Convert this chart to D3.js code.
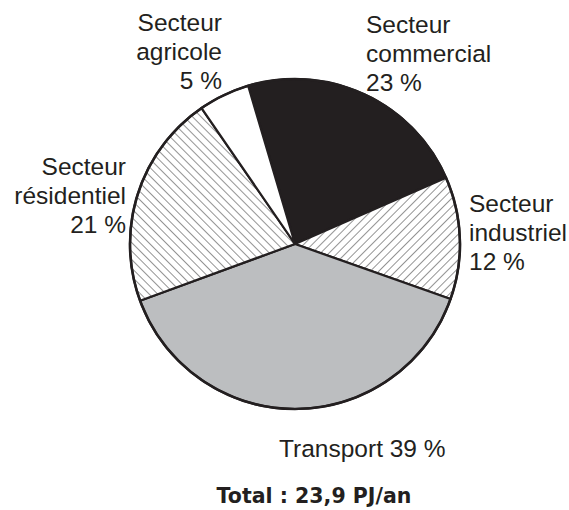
<!DOCTYPE html>
<html>
<head>
<meta charset="utf-8">
<script src="https://cdn.jsdelivr.net/npm/d3@7"></script>
<style>
  html, body { margin: 0; padding: 0; background: #fff; }
  svg { display: block; }
</style>
</head>
<body>
<svg width="569" height="510" viewBox="0 0 569 510"></svg>
<script>
// input data, clockwise from the top
const sectors = ['Secteur commercial', 'Secteur industriel', 'Transport', 'Secteur résidentiel', 'Secteur agricole'];
const shares = [23, 12, 39, 21, 5]; // percentage
const total = 'Total : 23,9 PJ/an';

// fill of each slice (pattern ids for the hatched ones)
const fills = ['#231f20', 'url(#hatch-fwd)', '#bcbec0', 'url(#hatch-back)', '#ffffff'];

// label placement: anchor point, alignment and line breaks
const labelLayout = [
  { x: 366, y: 33, anchor: 'start', lines: d => ['Secteur', 'commercial', `${d} %`] },
  { x: 469, y: 212, anchor: 'start', lines: d => ['Secteur', 'industriel', `${d} %`] },
  { x: 279, y: 457, anchor: 'start', lines: d => [`Transport ${d} %`] },
  { x: 126, y: 175, anchor: 'end', lines: d => ['Secteur', 'résidentiel', `${d} %`] },
  { x: 222, y: 31, anchor: 'end', lines: d => ['Secteur', 'agricole', `${d} %`] },
];

const svg = d3.select('svg');
const cx = 295;
const cy = 244;
const radius = 165;
const lineHeight = 29;

// hatch patterns
const defs = svg.append('defs');
[['hatch-back', 45], ['hatch-fwd', -45]].forEach(([id, angle]) => {
  const p = defs
    .append('pattern')
    .attr('id', id)
    .attr('patternUnits', 'userSpaceOnUse')
    .attr('width', 6)
    .attr('height', 6)
    .attr('patternTransform', `rotate(${angle})`);
  p.append('rect').attr('width', 6).attr('height', 6).attr('fill', '#fff');
  p.append('line')
    .attr('x1', 0).attr('y1', 0)
    .attr('x2', 6).attr('y2', 0)
    .attr('stroke', '#2a2a2a')
    .attr('stroke-width', 1);
});

const pie = d3
  .pie()
  .sort(null)
  .startAngle((-16.5 * Math.PI) / 180)
  .endAngle(((360 - 16.5) * Math.PI) / 180)
  .value(d => d);

const arc = d3.arc().innerRadius(0).outerRadius(radius);

const group = svg.append('g').attr('transform', `translate(${cx} ${cy})`);

group
  .selectAll('path')
  .data(pie(shares))
  .join('path')
  .attr('d', arc)
  .attr('fill', (d, i) => fills[i])
  .attr('stroke', '#231f20')
  .attr('stroke-width', 2.2)
  .attr('stroke-linejoin', 'round');

// outer ring
group
  .append('circle')
  .attr('r', radius)
  .attr('fill', 'none')
  .attr('stroke', '#231f20')
  .attr('stroke-width', 2.6);

// labels
svg
  .selectAll('text.label')
  .data(shares)
  .join('text')
  .attr('class', 'label')
  .attr('font-family', '"Liberation Sans", Arial, sans-serif')
  .attr('font-size', 24.5)
  .attr('fill', '#231f20')
  .attr('text-anchor', (d, i) => labelLayout[i].anchor)
  .each(function (d, i) {
    const l = labelLayout[i];
    d3.select(this)
      .selectAll('tspan')
      .data(l.lines(d))
      .join('tspan')
      .attr('x', l.x)
      .attr('y', (t, j) => l.y + j * lineHeight)
      .text(t => t);
  });

// total
svg
  .append('text')
  .attr('x', 314)
  .attr('y', 503)
  .attr('text-anchor', 'middle')
  .attr('font-family', '"DejaVu Sans", Verdana, sans-serif')
  .attr('font-weight', 'bold')
  .attr('font-size', 20.5)
  .attr('fill', '#231f20')
  .text(total);
</script>
</body>
</html>
